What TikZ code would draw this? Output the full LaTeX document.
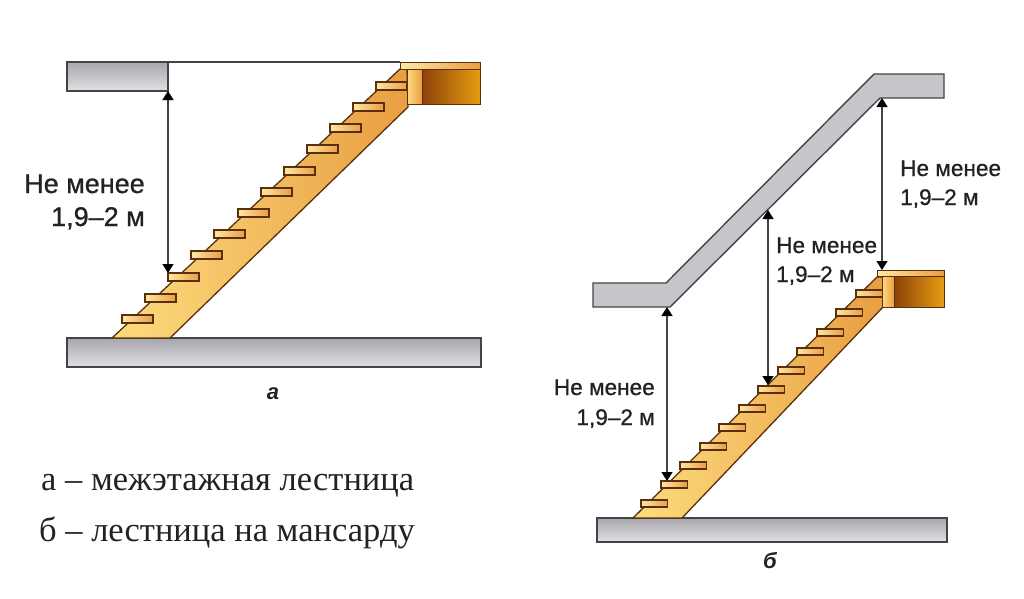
\documentclass[tikz,border=0pt]{standalone}
\usepackage{fontspec}
\setmainfont{Liberation Serif}
\setsansfont{Liberation Sans}
\newfontfamily\labelfont[FakeBold=0.8]{Liberation Sans}
\usetikzlibrary{arrows.meta}
\definecolor{edge}{HTML}{444448}
\definecolor{brownedge}{HTML}{5A300C}
\definecolor{slabtop}{HTML}{A6A6AC}
\definecolor{slabbot}{HTML}{E2E2E4}
\definecolor{roofgray}{HTML}{C6C6CA}
\definecolor{woodlight}{HTML}{FCDC7E}
\definecolor{woodmid}{HTML}{E99E42}
\definecolor{treadlight}{HTML}{FFE7A4}
\definecolor{treaddark}{HTML}{EC9C44}
\definecolor{boxdark}{HTML}{8C4208}
\definecolor{boxlight}{HTML}{E89C12}
\definecolor{inktext}{HTML}{222222}
\tikzset{
  slab/.style={draw=edge,line width=1.4pt,top color=slabtop,bottom color=slabbot,
    rectangle,inner sep=0pt,outer sep=0pt,anchor=north west},
  stringer/.style={draw=brownedge,line width=1.3pt,left color=woodlight,right color=woodmid},
  tread/.style={draw=brownedge,line width=1.3pt,left color=treadlight,right color=treaddark,
    rectangle,inner sep=0pt,outer sep=0pt,anchor=north west},
  plate/.style={draw=brownedge,line width=1pt,left color=treadlight,right color=treaddark},
  paneldark/.style={draw=brownedge,line width=1pt,left color=boxdark,right color=boxlight},
  panellight/.style={draw=brownedge,line width=1pt,left color=woodlight,right color=woodmid},
  dim/.style={draw=edge,line width=1.3pt,{Triangle[length=9pt,width=11pt,color=black]}-{Triangle[length=9pt,width=11pt,color=black]}},
  biglabel/.style={font=\labelfont\fontsize{27}{30}\selectfont,text=inktext,inner sep=0pt},
  midlabel/.style={font=\labelfont\fontsize{22.6}{26}\selectfont,text=inktext,inner sep=0pt},
  legend/.style={font=\rmfamily\fontsize{34.5}{36}\selectfont,text=inktext,inner sep=0pt,anchor=base west},
  figtag/.style={font=\sffamily\bfseries\itshape\fontsize{22}{24}\selectfont,text=inktext,inner sep=0pt},
}
\begin{document}
\begin{tikzpicture}[x=1pt,y=-1pt]
\useasboundingbox (0,0) rectangle (1024,598);
\fill[white] (0,0) rectangle (1024,598);

%% ---------- figure a ----------
\node[slab,minimum width=101pt,minimum height=29pt] (aceil) at (67,62) {};
\node[slab,minimum width=414pt,minimum height=29pt] (afloor) at (67,338) {};
\path[stringer] (112,338) -- (400,69) -- (407,69) -- (408,107) -- (170,338) -- cycle;
\path[panellight] (407,69) rectangle (422,104);
\path[paneldark] (422,69) rectangle (480,104);
\path[plate] (400,62) rectangle (480,69);
\coordinate (aplate) at (400,62);
\draw[edge,line width=1.2pt] (aceil.north east) -- (aplate);
\foreach \i in {0,...,11}{
  \node[tread,minimum width=31pt,minimum height=8pt] (a\i) at ({round(122+\i*23.1)},{round(315-\i*21.2)}) {};
}
\draw[dim] (aceil.south east) -- (a2.north west);
\node[biglabel,anchor=base east] (alab1) at (145,193) {Не менее};
\node[biglabel,anchor=base east] (alab2) at (145,226) {1,9–2 м};
\node[figtag] (atag) at (273,394) {а};

%% ---------- figure b ----------
\path[draw=edge,line width=1.4pt,fill=roofgray]
  (593,283) -- (666,283) -- (874,74) -- (944,74) -- (944,98) -- (880,98) -- (670,307) -- (593,307) -- cycle;
\node[slab,minimum width=350pt,minimum height=24pt] (bfloor) at (597,518) {};
\path[stringer] (633,518) -- (877,277) -- (883,277) -- (883,307) -- (682,518) -- cycle;
\path[panellight] (882,276) rectangle (894,307);
\path[paneldark] (894,276) rectangle (944,307);
\path[plate] (877,270) rectangle (944,276);
\foreach \i in {0,...,11}{
  \node[tread,minimum width=26.5pt,minimum height=7pt] (b\i) at ({round(641+\i*19.5)},{round(500-\i*19.05)}) {};
}
\coordinate (bc1) at (667,307);
\coordinate (bc2) at (768,210);
\coordinate (bc3) at (882,98);
\coordinate (bp3) at (882,270);
\coordinate (bt1) at (667,481);
\coordinate (bt2) at (768,385);
\draw[dim] (bc1) -- (bt1);
\draw[dim] (bc2) -- (bt2);
\draw[dim] (bc3) -- (bp3);
\node[midlabel,anchor=base east] (blab1) at (655,395) {Не менее};
\node[midlabel,anchor=base east] (blab2) at (655,425) {1,9–2 м};
\node[midlabel,anchor=base west] (blab3) at (776,253) {Не менее};
\node[midlabel,anchor=base west] (blab4) at (776,282) {1,9–2 м};
\node[midlabel,anchor=base west] (blab5) at (900,176) {Не менее};
\node[midlabel,anchor=base west] (blab6) at (900,205) {1,9–2 м};
\node[figtag] (btag) at (770,561) {б};

%% ---------- legend ----------
\node[legend] (leg1) at (41,490) {а – межэтажная лестница};
\node[legend] (leg2) at (39,541) {б – лестница на мансарду};
\end{tikzpicture}
\end{document}
